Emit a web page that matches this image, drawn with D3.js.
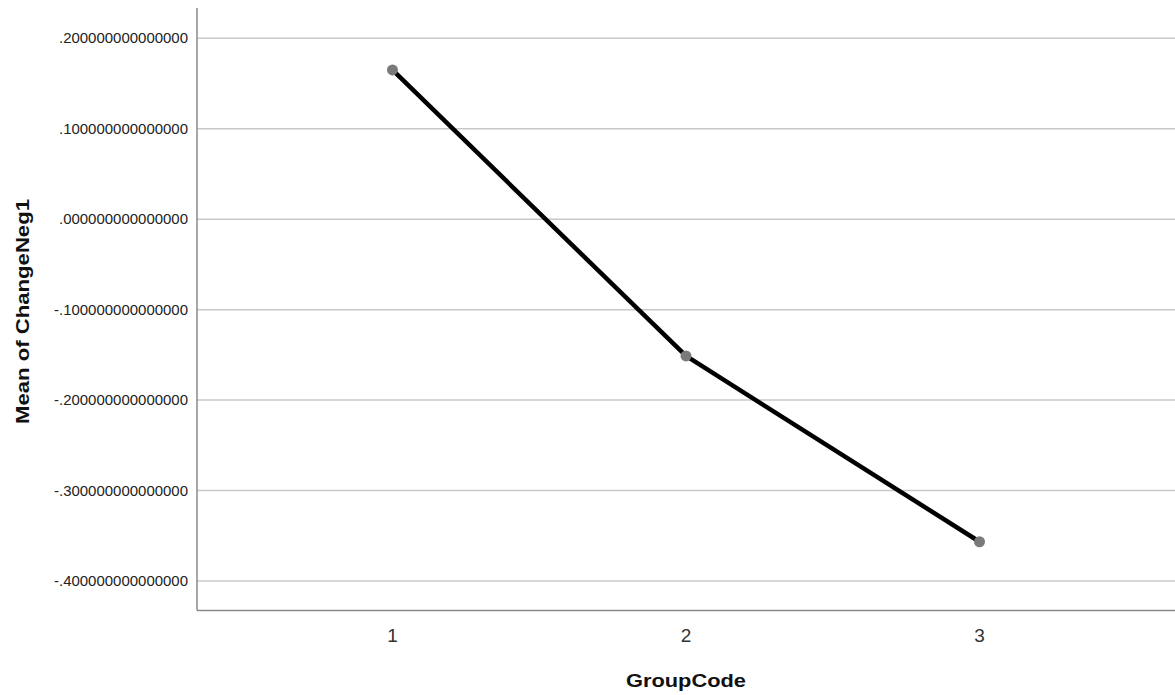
<!DOCTYPE html>
<html>
<head>
<meta charset="utf-8">
<script src="https://cdn.jsdelivr.net/npm/d3@7"></script>
<style>
html,body{margin:0;padding:0;background:#fff;}
svg{display:block;}
</style>
</head>
<body>
<svg id="chart" width="1175" height="695"></svg>
<script>
const categories = ["1", "2", "3"];
const meanValues = [0.1650, -0.1512, -0.3566];
const yTicks = [0.2, 0.1, 0.0, -0.1, -0.2, -0.3, -0.4];
const yTickLabels = [".200000000000000", ".100000000000000", ".000000000000000",
  "-.100000000000000", "-.200000000000000", "-.300000000000000", "-.400000000000000"];
const xTitle = "GroupCode";
const yTitle = "Mean of ChangeNeg1";

const svg = d3.select("#chart");
const plotLeft = 197, plotRight = 1175, plotTop = 8, plotBottom = 610.5;

const x = d3.scalePoint().domain(categories).range([plotLeft, plotRight]).padding(0.666);
const y = d3.scaleLinear().domain([-0.4326, 0.2335]).range([plotBottom, plotTop]);

// gridlines
svg.append("g").selectAll("line").data(yTicks).join("line")
  .attr("x1", plotLeft).attr("x2", plotRight)
  .attr("y1", d => y(d)).attr("y2", d => y(d))
  .attr("stroke", "#c8c8c8").attr("stroke-width", 1.5);

// axes lines
svg.append("line").attr("x1", plotLeft).attr("x2", plotLeft).attr("y1", plotTop).attr("y2", plotBottom)
  .attr("stroke", "#8a8a8a").attr("stroke-width", 1.5);
svg.append("line").attr("x1", plotLeft).attr("x2", plotRight).attr("y1", plotBottom).attr("y2", plotBottom)
  .attr("stroke", "#8a8a8a").attr("stroke-width", 1.5);

// y tick labels
svg.append("g").selectAll("text").data(yTicks).join("text")
  .attr("x", 188).attr("y", d => y(d) + 5)
  .attr("text-anchor", "end")
  .attr("font-family", "Liberation Sans, Arial, sans-serif")
  .attr("font-size", 15)
  .attr("fill", "#222")
  .attr("textLength", (d, i) => yTickLabels[i].startsWith("-") ? 134 : 129)
  .attr("lengthAdjust", "spacingAndGlyphs")
  .text((d, i) => yTickLabels[i]);

// x tick labels
svg.append("g").selectAll("text").data(categories).join("text")
  .attr("x", d => x(d)).attr("y", 642)
  .attr("text-anchor", "middle")
  .attr("font-family", "Liberation Sans, Arial, sans-serif")
  .attr("font-size", 19)
  .attr("fill", "#333")
  .text(d => d);

// titles
svg.append("text")
  .attr("x", (x("1") + x("3")) / 2).attr("y", 687)
  .attr("text-anchor", "middle")
  .attr("font-family", "Liberation Sans, Arial, sans-serif")
  .attr("font-size", 18).attr("font-weight", "bold")
  .attr("fill", "#111")
  .attr("textLength", 120).attr("lengthAdjust", "spacingAndGlyphs")
  .text(xTitle);

svg.append("text")
  .attr("transform", "translate(29," + 311.5 + ") rotate(-90)")
  .attr("text-anchor", "middle")
  .attr("font-family", "Liberation Sans, Arial, sans-serif")
  .attr("font-size", 18).attr("font-weight", "bold")
  .attr("fill", "#111")
  .attr("textLength", 225).attr("lengthAdjust", "spacingAndGlyphs")
  .text(yTitle);

// line
const line = d3.line().x((d, i) => x(categories[i])).y(d => y(d));
svg.append("path").datum(meanValues)
  .attr("d", line)
  .attr("fill", "none").attr("stroke", "#000").attr("stroke-width", 4.5)
  .attr("stroke-linejoin", "round");

// markers
svg.append("g").selectAll("circle").data(meanValues).join("circle")
  .attr("cx", (d, i) => x(categories[i])).attr("cy", d => y(d))
  .attr("r", 5.5).attr("fill", "#7a7a7a");
</script>
</body>
</html>
